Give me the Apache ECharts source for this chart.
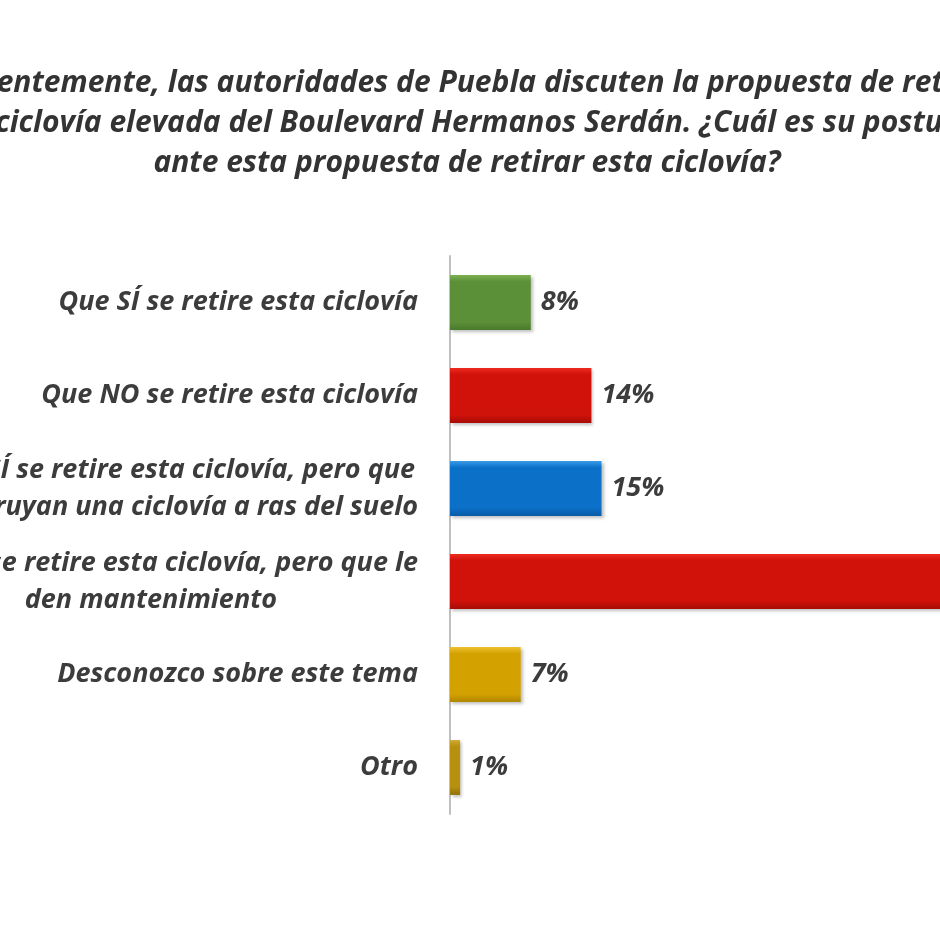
<!DOCTYPE html>
<html>
<head>
<meta charset="utf-8">
<script src="https://cdn.jsdelivr.net/npm/echarts@6/dist/echarts.min.js"></script>
<style>
html,body{margin:0;padding:0;background:#fff;}
#chart{width:940px;height:940px;}
</style>
</head>
<body>
<div id="chart"></div>
<script>
const titleLines = [
  'Recientemente, las autoridades de Puebla discuten la propuesta de retirar',
  'la ciclovía elevada del Boulevard Hermanos Serdán. ¿Cuál es su postura',
  'ante esta propuesta de retirar esta ciclovía?'
];
const categories = [
  'Que SÍ se retire esta ciclovía',
  'Que NO se retire esta ciclovía',
  'Que SÍ se retire esta ciclovía, pero que\nconstruyan una ciclovía a ras del suelo',
  'Que NO se retire esta ciclovía, pero que le\nden mantenimiento',
  'Desconozco sobre este tema',
  'Otro'
];
const values = [8, 14, 15, 55, 7, 1];

const barColors = [
  ['#7db152', '#5c9038', '#4a7a2c'],
  ['#ee2a20', '#d0120a', '#a80c08'],
  ['#3a9be6', '#0a70c8', '#0a5aa6'],
  ['#ee2a20', '#d0120a', '#a80c08'],
  ['#ecc030', '#d4a200', '#b08600'],
  ['#d0a830', '#b8900f', '#8f700a']
];

function grad(c) {
  return new echarts.graphic.LinearGradient(0, 0, 0, 1, [
    {offset: 0, color: c[0]},
    {offset: 0.12, color: c[1]},
    {offset: 0.85, color: c[1]},
    {offset: 1, color: c[2]}
  ]);
}

const chart = echarts.init(document.getElementById('chart'), null, {renderer: 'canvas'});
const fontFam = '"Open Sans", sans-serif';
chart.setOption({
  backgroundColor: '#ffffff',
  animation: false,
  title: {
    text: titleLines.join('\n'),
    left: 462,
    top: 58,
    textAlign: 'center',
    textStyle: {
      fontFamily: fontFam,
      fontStyle: 'italic',
      fontWeight: 'bold',
      fontSize: 30,
      lineHeight: 40,
      color: '#333333'
    }
  },
  grid: {
    left: 450,
    top: 256,
    width: 606,
    height: 558,
    containLabel: false,
    outerBoundsMode: 'none'
  },
  xAxis: {
    type: 'value',
    min: 0,
    max: 60,
    show: false
  },
  yAxis: {
    type: 'category',
    inverse: true,
    data: categories,
    axisLine: {show: true, lineStyle: {color: '#c0c0c0', width: 2}},
    axisTick: {show: false},
    axisLabel: {
      margin: 32,
      formatter: function (v) {
        return v.split('\n').map(function (s) { return '{c|' + s + '}'; }).join('\n');
      },
      rich: {
        c: {
          align: 'center',
          fontFamily: fontFam,
          fontStyle: 'italic',
          fontWeight: 'bold',
          fontSize: 27,
          lineHeight: 37,
          color: '#3c3c3c'
        }
      }
    }
  },
  series: [{
    type: 'bar',
    barCategoryGap: '41%',
    data: values.map(function (v, i) {
      return {
        value: v,
        itemStyle: {
          color: grad(barColors[i]),
          shadowBlur: 3,
          shadowOffsetX: 2,
          shadowOffsetY: 2,
          shadowColor: 'rgba(0,0,0,0.25)'
        }
      };
    }),
    label: {
      show: true,
      position: 'right',
      distance: 10,
      formatter: '{c}%',
      fontFamily: fontFam,
      fontStyle: 'italic',
      fontWeight: 'bold',
      fontSize: 27,
      color: '#3c3c3c'
    }
  }]
});
</script>
</body>
</html>
